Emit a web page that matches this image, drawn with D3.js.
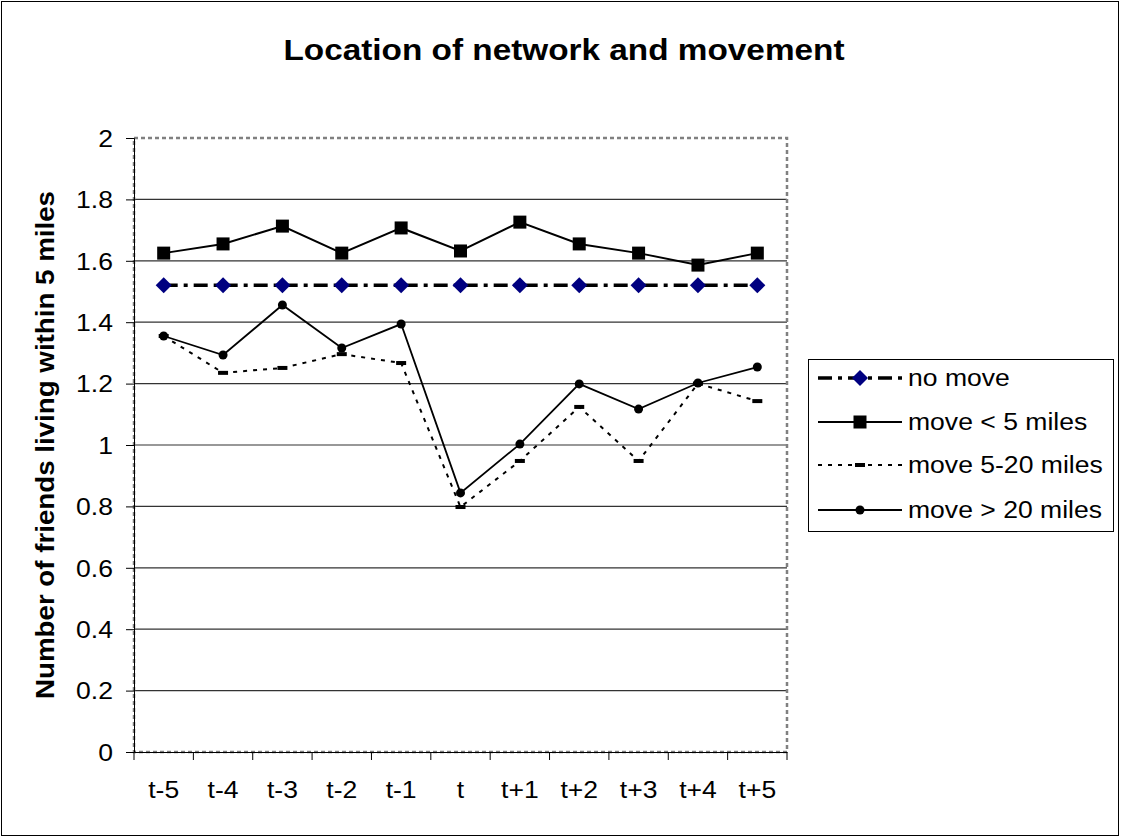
<!DOCTYPE html>
<html><head><meta charset="utf-8">
<script src="https://cdn.jsdelivr.net/npm/d3@7"></script>
<style>body{margin:0;background:#fff}svg{display:block;font-family:"Liberation Sans",Arial,sans-serif}</style>
</head><body>
<svg id="c" width="1121" height="840"></svg>
<script>
const categories = ["t-5","t-4","t-3","t-2","t-1","t","t+1","t+2","t+3","t+4","t+5"];
const noMove   = [1.52,1.52,1.52,1.52,1.52,1.52,1.52,1.52,1.52,1.52,1.52];
const moveLt5  = [1.625,1.655,1.713,1.625,1.707,1.632,1.726,1.655,1.625,1.586,1.625];
const move5_20 = [1.355,1.235,1.251,1.296,1.267,0.798,0.948,1.124,0.948,1.2,1.143];
const moveGt20 = [1.355,1.293,1.456,1.316,1.394,0.844,1.003,1.199,1.117,1.202,1.254];
const yTicks = [0,0.2,0.4,0.6,0.8,1,1.2,1.4,1.6,1.8,2];
const seriesNames = ["no move","move < 5 miles","move 5-20 miles","move > 20 miles"];

const SX = 1.13; // horizontal stretch of text seen in reference
function stretch(sel){
  sel.each(function(){
    const t=d3.select(this); const x=+t.attr("x")||0;
    t.attr("transform",`translate(${x},0) scale(${SX},1) translate(${-x},0)`);
  });
}

const svg = d3.select("#c");
svg.append("rect").attr("x",1.5).attr("y",1.5).attr("width",1117).attr("height",834)
  .attr("fill","#fff").attr("stroke","#000").attr("stroke-width",1);

const L=134, R=787, T=138, B=752;
const x = d3.scaleBand().domain(categories).range([L,R]);
const y = d3.scaleLinear().domain([0,2]).range([B,T]);
const cx = d => x(d)+x.bandwidth()/2;

// gridlines
svg.append("g").selectAll("line").data(yTicks.filter(v=>v>0 && v<2)).join("line")
  .attr("x1",L).attr("x2",R).attr("y1",d=>y(d)).attr("y2",d=>y(d))
  .attr("stroke","#333").attr("stroke-width",1.2);

// plot border dashed gray
svg.append("rect").attr("x",L).attr("y",T).attr("width",R-L).attr("height",B-T)
  .attr("fill","none").attr("stroke","#808080").attr("stroke-width",2.5).attr("stroke-dasharray","4,3");

// axes
const yAxis = d3.axisLeft(y).tickValues(yTicks).tickSize(8).tickFormat(d=>d3.format("")(d));
const gy = svg.append("g").attr("transform",`translate(${L},0)`).call(yAxis);
gy.attr("font-size",null).attr("font-family",null);
gy.select(".domain").attr("stroke","#000");
gy.selectAll(".tick line").attr("stroke","#000");
gy.selectAll(".tick text").attr("font-size",23.5).attr("fill","#000").attr("x",-21).attr("dy","0.35em");
stretch(gy.selectAll(".tick text"));

const xAxis = d3.axisBottom(x).tickSize(0).tickPadding(0);
const gx = svg.append("g").attr("transform",`translate(0,${B})`).call(xAxis);
gx.attr("font-size",null).attr("font-family",null);
gx.select(".domain").attr("stroke","#000");
gx.selectAll(".tick text").attr("font-size",23.5).attr("fill","#000").attr("y",46).attr("dy","0");
stretch(gx.selectAll(".tick text"));
// band boundary ticks
const bounds = categories.map(c=>x(c)).concat([R]);
svg.append("g").selectAll("line").data(bounds).join("line")
  .attr("x1",d=>d).attr("x2",d=>d).attr("y1",B).attr("y2",B+8).attr("stroke","#000");

// title
const title = svg.append("text").attr("x",564).attr("y",60).attr("text-anchor","middle")
  .attr("font-size",29.5).attr("font-weight","bold").text("Location of network and movement");
stretch(title);
svg.append("text").attr("transform",`translate(54,${(T+B)/2}) rotate(-90)`).attr("text-anchor","middle")
  .attr("font-size",25).attr("font-weight","bold")
  .attr("textLength",508).attr("lengthAdjust","spacingAndGlyphs")
  .text("Number of friends living within 5 miles");

const line = d3.line().x((d,i)=>cx(categories[i])).y(d=>y(d));

// series
const styles = [
  {data:noMove, w:3.5, dash:"14,6,4,6"},
  {data:moveLt5, w:2, dash:null},
  {data:move5_20, w:2, dash:"4,6"},
  {data:moveGt20, w:1.8, dash:null}
];
function marker(g, k, px, py){
  if(k===0){
    g.append("path").attr("d",`M${px},${py-8}L${px+8},${py}L${px},${py+8}L${px-8},${py}Z`).attr("fill","#000080");
  } else if(k===1){
    g.append("rect").attr("x",px-6.5).attr("y",py-6.5).attr("width",13).attr("height",13).attr("fill","#000");
  } else if(k===2){
    g.append("rect").attr("x",px-5).attr("y",py-2).attr("width",10).attr("height",4).attr("fill","#000");
  } else {
    g.append("circle").attr("cx",px).attr("cy",py).attr("r",4.5).attr("fill","#000");
  }
}
const order=[2,3,1,0];
order.forEach(k=>{
  const s=styles[k];
  svg.append("path").datum(s.data).attr("d",line).attr("fill","none").attr("stroke","#000")
    .attr("stroke-width",s.w).attr("stroke-dasharray",s.dash);
});
order.forEach(k=>{
  const g=svg.append("g");
  styles[k].data.forEach((v,i)=>marker(g,k,cx(categories[i]),y(v)));
});

// legend
svg.append("rect").attr("x",808.5).attr("y",359.5).attr("width",305).attr("height",172)
  .attr("fill","#fff").attr("stroke","#000").attr("stroke-width",1);
const ly=[378,422,465,510];
seriesNames.forEach((n,k)=>{
  const s=styles[k];
  svg.append("line").attr("x1",818).attr("x2",902).attr("y1",ly[k]).attr("y2",ly[k])
    .attr("stroke","#000").attr("stroke-width",s.w).attr("stroke-dasharray",s.dash);
  marker(svg,k,860,ly[k]);
  const t=svg.append("text").attr("x",908).attr("y",ly[k]+8).attr("font-size",23.5).text(n);
  stretch(t);
});
</script>
</body></html>
